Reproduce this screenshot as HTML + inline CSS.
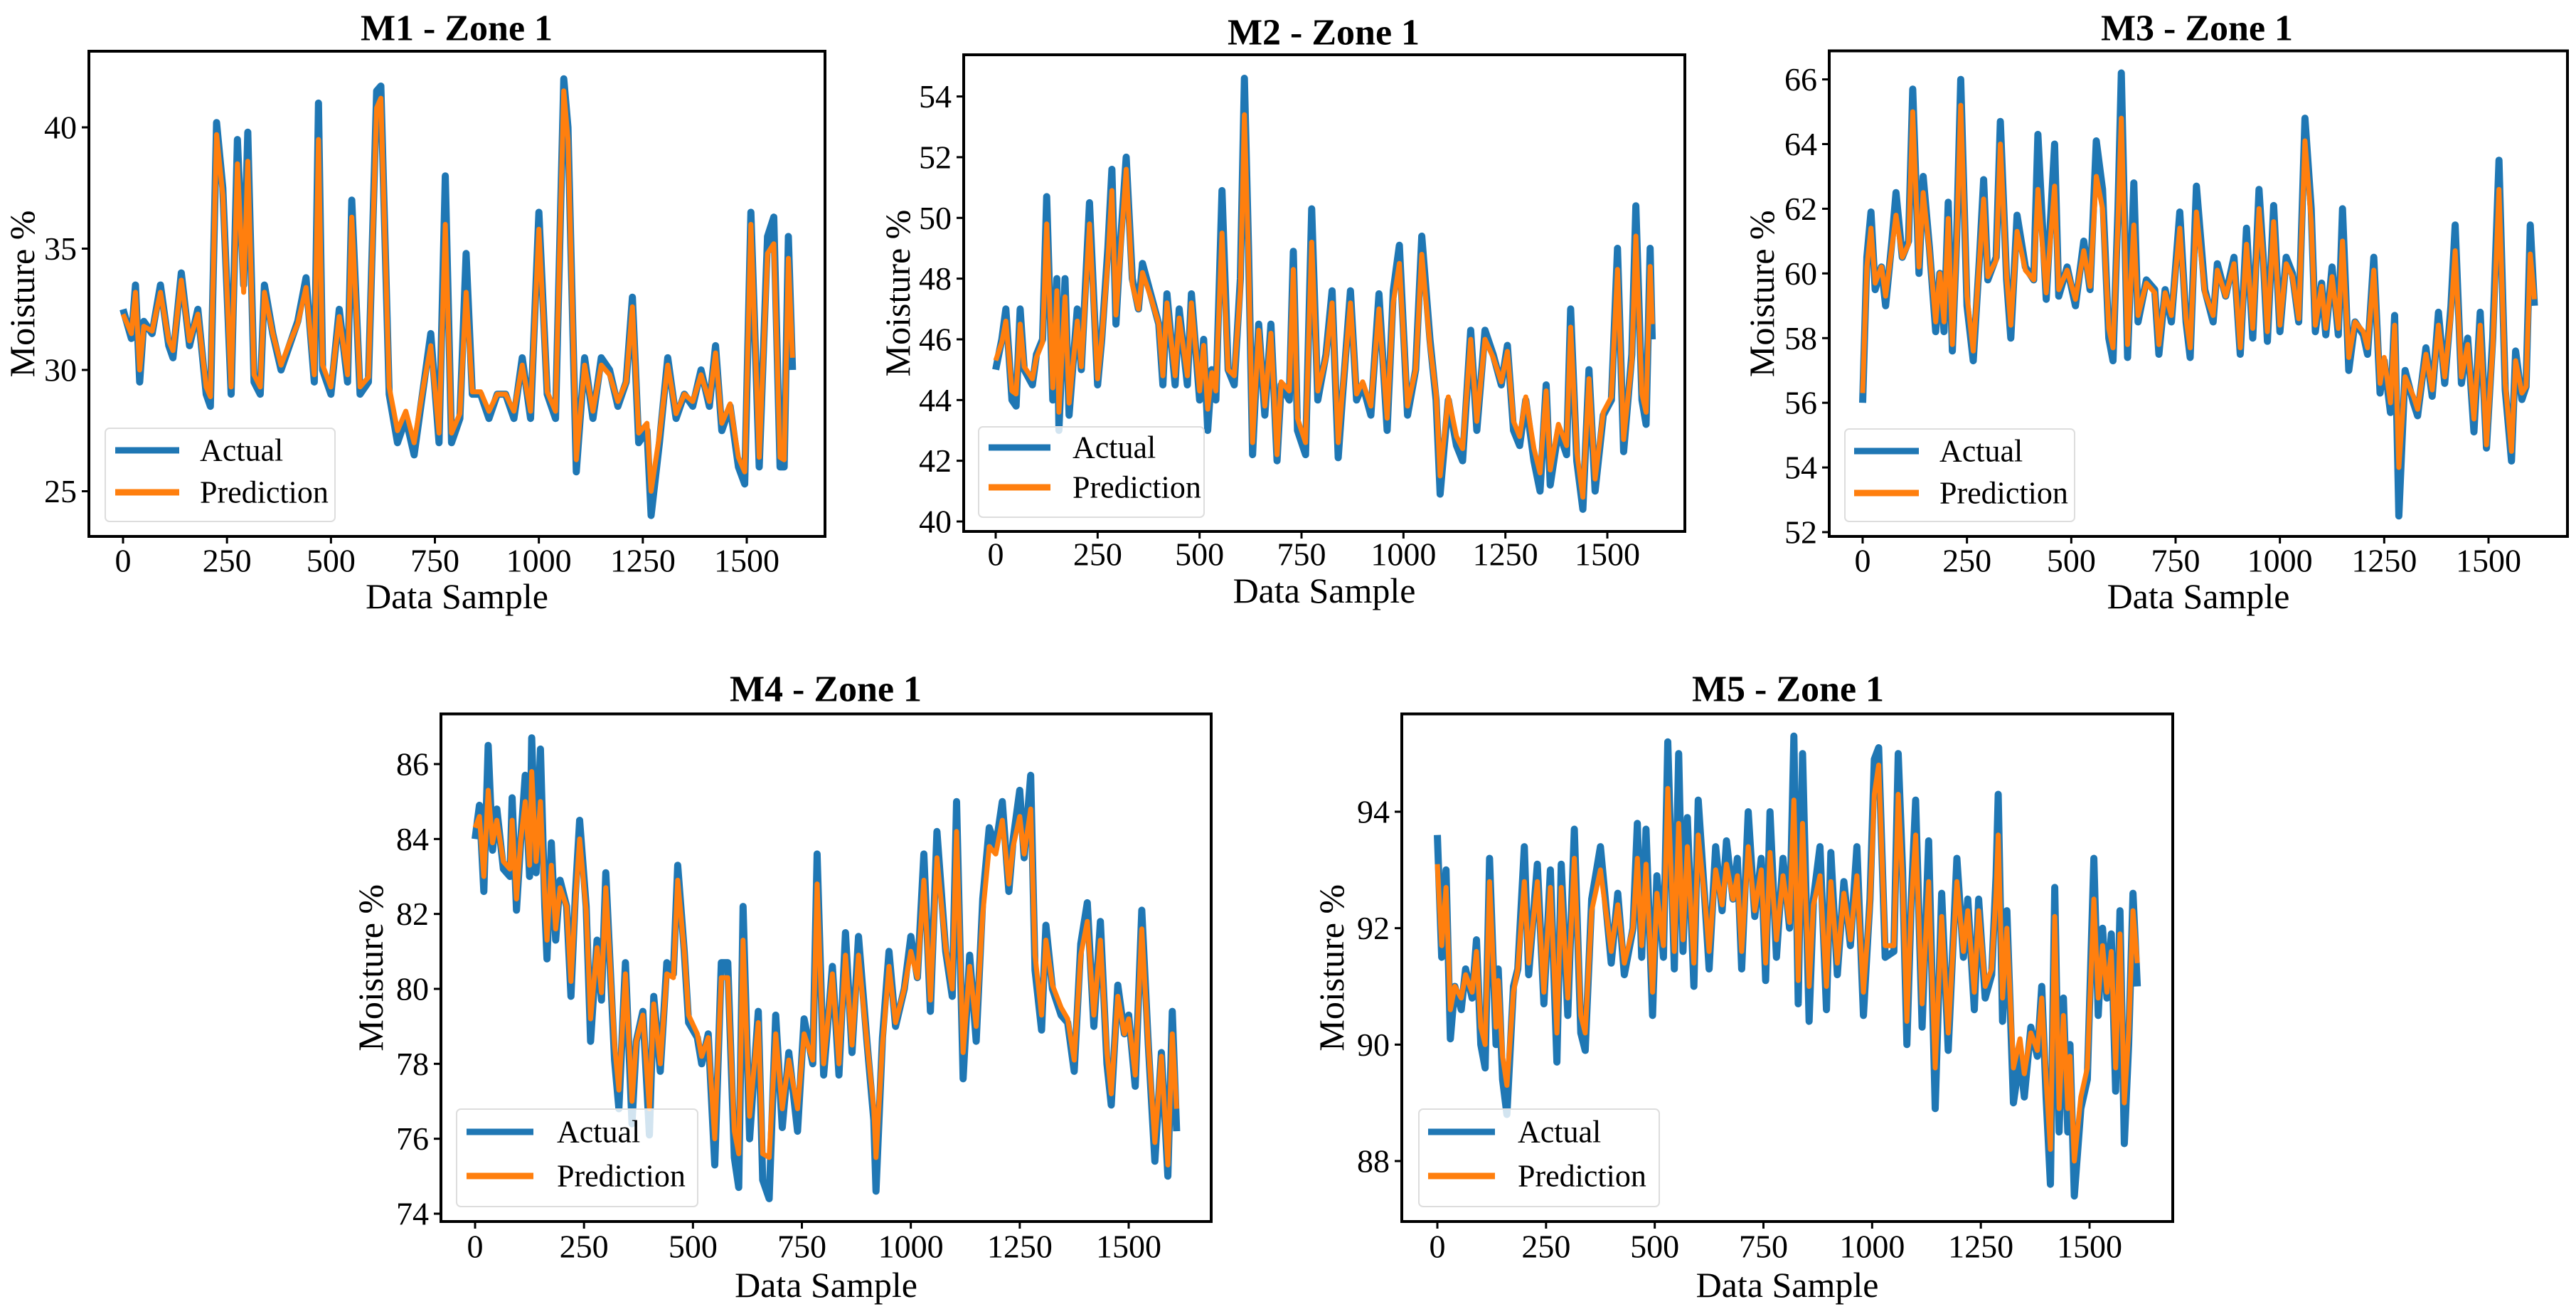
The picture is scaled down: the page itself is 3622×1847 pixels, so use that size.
<!DOCTYPE html>
<html><head><meta charset="utf-8"><style>
html,body{margin:0;padding:0;background:#fff;}
svg{display:block;font-family:"Liberation Serif","DejaVu Serif",serif;}
</style></head><body>
<svg id="fig" width="3622" height="1847" viewBox="0 0 3622 1847" xmlns="http://www.w3.org/2000/svg"></svg>
<script>
// ---- data ----
const m1X=[0,20,30,40,50,70,90,110,120,140,160,180,200,210,225,240,260,275,290,300,315,330,340,360,380,400,420,440,460,470,480,500,520,540,550,570,590,610,620,640,660,680,700,720,740,760,775,790,810,825,840,860,880,900,920,940,960,980,1000,1020,1040,1060,1070,1090,1110,1130,1150,1170,1190,1210,1225,1240,1260,1270,1290,1310,1330,1350,1370,1390,1410,1425,1440,1460,1480,1495,1510,1530,1550,1565,1580,1590,1600,1610];
const m1Actual=[32.5,31.3,33.5,29.5,32,31.5,33.5,31,30.5,34,31,32.5,29,28.5,40.2,37.5,29,39.5,33.5,39.8,29.5,29,33.5,31.5,30,31,32,33.8,29.5,41,30,29,32.5,29.5,37,29,29.5,41.5,41.7,29,27,28,26.5,29,31.5,27,38,27,28,34.8,29,29,28,29,29,28,30.5,28,36.5,29,28,42,40,25.8,30.5,28,30.5,30,28.5,29.5,33,27,27.5,24,27,30.5,28,29,28.5,30,28.5,31,27.5,28.5,26,25.3,36.5,26,35.5,36.3,26,26,35.5,30];
const m1Pred=[32.3,31.5,33.2,30,31.8,31.6,33.2,31.2,30.8,33.7,31.2,32.3,29.3,28.9,39.7,37.2,29.3,38.5,33.2,38.6,29.8,29.3,33.2,31.5,30.2,31.1,31.9,33.4,29.8,39.5,30.2,29.3,32.2,29.8,36.3,29.3,29.7,40.8,41.2,29.3,27.5,28.3,27,29.1,31,27.4,36,27.4,28.2,33.2,29.1,29.1,28.3,29,29,28.3,30.2,28.3,35.8,29.1,28.3,41.5,39.5,26.3,30.2,28.3,30.2,29.8,28.7,29.5,32.6,27.4,27.8,25,27.3,30.2,28.2,29,28.7,29.8,28.7,30.7,27.8,28.6,26.4,25.8,36,26.4,34.8,35.2,26.4,26.3,34.6,30.5];
const m1YTicks=[25,30,35,40];

const m2X=[0,15,25,40,50,60,70,90,100,115,125,140,150,155,170,180,200,210,230,250,260,275,285,295,305,320,335,350,360,380,400,410,420,440,450,470,480,500,510,520,530,540,555,570,585,600,610,620,630,645,660,675,690,700,720,730,740,760,775,790,810,825,840,850,870,885,900,920,940,960,975,990,1010,1030,1045,1065,1080,1090,1110,1130,1145,1165,1180,1200,1220,1240,1255,1270,1285,1300,1320,1335,1350,1360,1380,1400,1410,1425,1440,1455,1470,1490,1510,1525,1540,1560,1570,1585,1595,1605,1610];
const m2Actual=[45,46,47,44,43.8,47,45,44.5,45.5,46,50.7,44,48,43,48,43.5,47,45,50.5,44.5,46,49,51.6,46.5,49,52,48,47,48.5,47.5,46.5,44.5,47.5,44.5,47,44.5,47.5,44,46,43,45,44,50.9,45,44.5,48,54.6,49,42.2,46.5,43.5,46.5,42,44.5,44,48.9,43,42.2,50.3,44,45.5,47.6,42.1,44,47.6,44,44.5,43.5,47.5,43,47.6,49.1,43.5,45,49.4,46,44,40.9,44,42.5,42,46.3,43,46.3,45.5,44.5,45.8,43,42.5,44,42,41,44.5,41.2,43,42.2,47,42,40.4,45,41,43.5,44,49,42.3,45.5,50.4,44,43.2,49,46];
const m2Pred=[45.3,45.9,46.6,44.3,44.2,46.5,45.1,44.7,45.4,45.9,49.8,44.4,47.6,43.6,47.4,43.9,46.6,45.1,49.8,44.7,46,48.6,50.9,46.8,48.7,51.6,47.8,47,48.2,47.4,46.5,44.8,47.2,44.8,46.7,44.8,47.2,44.3,45.8,43.7,44.9,44.3,49.5,45,44.8,47.6,53.4,48.6,42.6,46.3,43.8,46.2,42.2,44.6,44.3,48.3,43.4,42.6,49.2,44.3,45.4,47.2,42.6,44.2,47.2,44.2,44.6,43.8,47,43.4,47.2,48.5,43.8,45,48.8,45.8,44.2,41.5,44.1,42.8,42.4,46,43.3,46,45.4,44.6,45.6,43.3,42.8,44.1,42.4,41.6,44.3,41.7,43.2,42.5,46.4,42.3,40.8,44.7,41.4,43.6,44.1,48.3,42.7,45.3,49.4,44.2,43.6,48.4,46.5];
const m2YTicks=[40,42,44,46,48,50,52,54];

const m3X=[0,10,20,30,45,55,70,80,95,110,120,135,145,160,175,185,195,205,215,225,235,250,265,280,290,300,320,330,345,355,370,390,410,420,440,460,470,490,510,530,545,560,575,590,600,612,620,635,650,660,680,700,710,725,740,760,775,785,800,820,840,850,870,890,905,920,935,950,960,970,985,1000,1015,1030,1045,1060,1075,1085,1100,1110,1125,1140,1150,1165,1180,1200,1210,1225,1240,1250,1265,1275,1285,1300,1320,1330,1350,1365,1380,1395,1410,1420,1435,1450,1465,1480,1495,1510,1525,1540,1555,1565,1580,1590,1600,1610];
const m3Actual=[56,60.5,61.9,59.5,60.2,59,61,62.5,60.5,61,65.7,60,63,60.8,58.2,60,58.2,62.2,57.6,61,66,59,57.3,60.5,62.9,59.8,60.5,64.7,59.8,58,61.8,60.2,59.8,64.3,59.2,64,59.3,60.2,59,61,59.5,64.1,62.6,58,57.3,62,66.2,57.4,62.8,58.5,59.8,59.5,57.5,59.5,58.5,61.9,58.5,57.4,62.7,59.5,58.5,60.3,59.3,60.5,57.5,61.4,58,62.6,60.5,57.9,62.1,58.2,60.5,60,58.5,64.8,62,58.2,59.7,58.1,60.2,58.1,62,57,58.5,58.1,57.5,60.5,56.3,57.3,55.7,58.7,52.5,57,56,55.6,57.7,56.2,58.8,56.6,59,61.5,56.6,58,55.1,58.8,54.6,58,63.5,56.4,54.2,57.6,56.1,56.5,61.5,59];
const m3Pred=[56.3,60.2,61.4,59.7,60.2,59.3,60.8,61.8,60.5,60.9,65,60.2,62.5,60.7,58.5,60,58.5,61.7,57.8,60.8,65.2,59.3,57.6,60.4,62.3,59.9,60.4,64,59.9,58.4,61.3,60.1,59.8,62.6,59.4,62.7,59.5,60.1,59.2,60.7,59.6,63,62,58.3,57.7,61.6,64.8,57.8,61.5,58.7,59.7,59.4,57.8,59.4,58.7,61.4,58.6,57.7,61.9,59.4,58.7,60.1,59.3,60.3,57.7,60.9,58.3,62,60.4,58.2,61.6,58.4,60.3,59.9,58.6,64.1,61.6,58.4,59.6,58.3,59.9,58.3,61,57.4,58.5,58.2,57.7,60.1,56.6,57.4,56,58.4,54,56.8,56.2,55.8,57.5,56.4,58.4,56.8,58.7,60.7,56.8,57.8,55.5,58.4,54.7,57.7,62.6,56.6,54.5,57.3,56.3,56.5,60.6,59.2];
const m3YTicks=[52,54,56,58,60,62,64,66];

const m4X=[0,10,20,30,40,50,65,80,85,95,105,115,125,130,140,150,160,165,175,185,195,210,220,230,240,255,265,280,290,300,320,330,345,360,370,385,400,410,425,440,455,465,480,490,510,520,535,550,565,580,595,605,615,630,650,660,675,690,705,720,740,755,775,785,800,820,835,850,865,880,900,915,920,935,950,965,985,1000,1015,1030,1045,1060,1080,1095,1105,1120,1135,1150,1165,1180,1195,1210,1225,1235,1250,1260,1275,1285,1300,1310,1325,1345,1360,1375,1390,1405,1420,1435,1450,1460,1475,1490,1500,1515,1530,1545,1560,1575,1590,1600,1610];
const m4Actual=[84,84.9,82.6,86.5,83.7,84.8,83.2,83,85.1,82.1,84,85.7,83,86.7,83.1,86.4,82.2,80.8,83.9,81.3,82.9,82.2,79.8,82.5,84.5,82.2,78.6,81.3,79.7,83.1,78.1,76.8,80.7,76.4,78.6,79.4,76.1,79.8,77.8,80.7,80.4,83.3,81,79.1,78.7,78,78.8,75.3,80.7,80.7,75.5,74.7,82.2,76,79.4,74.9,74.4,79.3,76.3,78.3,76.2,79.2,78,83.6,77.7,80.6,77.7,81.5,78.3,81.4,78.5,76.5,74.6,78.7,81,79,80,81.4,80.3,83.6,79.4,84.2,81,79.8,85,77.6,80.9,78.6,82.4,84.3,83.8,85,82.6,84,85.3,83.5,85.7,80.5,78.9,81.7,80,79.3,79.1,77.8,81.2,82.3,79,81.8,78,76.9,80.1,78.8,79.3,77.4,82.1,78.5,75.4,78.3,75,79.4,76.2];
const m4Pred=[84.3,84.6,83,85.3,83.9,84.5,83.4,83.2,84.5,82.4,84,85,83.3,85.8,83.4,85,82.4,81.3,83.3,81.6,82.7,82.2,80.2,82.3,84,82.1,79.2,81.1,79.9,82.7,78.5,77.3,80.4,77,78.6,79.3,76.8,79.6,78,80.4,80.3,82.9,81,79.3,78.8,78.2,78.7,76,80.3,80.3,76.2,75.6,81.3,76.6,79.1,75.6,75.5,78.8,76.8,78.1,76.8,78.8,78.1,82.8,78,80.4,78,80.9,78.5,80.9,78.5,76.8,75.5,78.5,80.6,79.1,80,81,80.3,82.9,79.7,83.5,81.1,80,84.2,78.3,80.6,79,82,83.8,83.6,84.5,82.8,83.8,84.6,83.6,84.8,80.9,79.3,81.3,80.1,79.5,79.2,78.1,80.9,81.8,79.3,81.3,78.3,77.2,79.8,78.8,79.2,77.7,81.6,78.5,75.9,78.2,75.3,78.8,76.8];
const m4YTicks=[74,76,78,80,82,84,86];

const m5X=[0,10,20,30,40,55,65,80,90,100,110,120,135,140,150,160,175,185,200,210,230,245,260,275,285,300,315,330,340,355,375,400,415,430,450,460,470,480,495,505,520,530,545,555,565,575,590,600,615,625,640,655,665,680,690,700,715,730,745,755,765,780,795,810,820,830,840,855,865,880,895,905,920,935,950,965,980,995,1005,1015,1030,1050,1060,1070,1080,1090,1100,1115,1130,1145,1160,1175,1195,1210,1220,1235,1245,1260,1275,1285,1290,1300,1310,1325,1340,1350,1365,1380,1390,1400,1410,1420,1430,1440,1450,1455,1465,1480,1495,1510,1520,1530,1540,1550,1560,1570,1580,1590,1600,1610];
const m5Actual=[93.6,91.5,93,90.1,91,90.6,91.3,90.8,91.8,90,89.6,93.2,90,91.3,89.4,88.8,91,91.3,93.4,91.2,93.1,90.7,93,89.7,93.1,90.5,93.7,90.2,89.9,92.5,93.4,91.4,92.6,91.2,92,93.8,91.5,93.7,90.5,92.9,91.5,95.2,91.3,95,91.6,93.9,91,94.2,92.5,91.3,93.4,92.3,93.5,92.5,93.2,91.3,94,92.2,93.2,91.1,94,91.5,93.2,92,95.3,90.7,95,90.4,92.5,93.4,90.6,93.3,91.2,92.8,91.7,93.4,90.5,92.5,94.9,95.1,91.5,91.6,95,93,90,92.5,94.2,90.3,93.5,88.9,92.6,89.9,93.2,91.5,92.5,90.6,92.5,90.8,91.2,92.9,94.3,90.4,92.3,89,89.8,89.1,90.3,89.8,91,89.1,87.6,92.7,88.5,90.8,88.5,90,87.4,88.9,89.4,93.2,90.5,92,90.8,91.9,89.2,92.3,88.3,90,92.6,91];
const m5Pred=[93.1,91.7,92.7,90.6,91,90.8,91.2,90.9,91.6,90.3,90,92.8,90.3,91.1,89.8,89.3,90.9,91.3,92.8,91.4,92.8,90.9,92.7,90.2,92.7,90.8,93.2,90.5,90.2,92.3,93,91.6,92.4,91.4,92,93.2,91.7,93.1,90.9,92.6,91.7,94.4,91.6,93.8,91.8,93.4,91.4,93.6,92.5,91.6,93,92.4,93.1,92.5,92.9,91.6,93.4,92.3,93,91.4,93.3,91.8,92.9,92.1,94.2,91.1,93.8,91,92.4,92.9,91,92.8,91.4,92.6,91.8,92.9,90.9,92.4,94.3,94.8,91.7,91.7,94.3,92.8,90.4,92.4,93.6,90.7,92.8,89.6,92.2,90.2,92.8,91.6,92.3,90.9,92.3,91,91.3,92.6,93.6,90.8,92,89.6,90.1,89.5,90.2,89.9,90.8,89.4,88.2,92.2,88.9,90.5,88.9,89.8,88,89.1,89.6,92.5,90.8,91.7,90.9,91.6,89.6,91.9,89,90.2,92.3,91.4];
const m5YTicks=[88,90,92,94];

const xTickLabels=[0,250,500,750,1000,1250,1500];

// ---- layout (pixels) ----
const charts=[
 {id:'m1',title:'M1 - Zone 1',x:m1X,a:m1Actual,p:m1Pred,yt:m1YTicks,L:125,R:1160,T:72,B:754,x0:173,x1500:1050,yv1:40,yp1:179,yv2:25,yp2:690.5,tx:642,ty:40,ylx:31,xty:788,xly:838,lg:[148,602,323,131],ly:[633,692],lx:[162,252],ltx:281},
 {id:'m2',title:'M2 - Zone 1',x:m2X,a:m2Actual,p:m2Pred,yt:m2YTicks,L:1355,R:2369,T:77,B:747,x0:1400,x1500:2260,yv1:54,yp1:135.6,yv2:40,yp2:733,tx:1861,ty:46,ylx:1262,xty:779,xly:830,lg:[1376,600,317,127],ly:[629,685],lx:[1390,1477],ltx:1508},
 {id:'m3',title:'M3 - Zone 1',x:m3X,a:m3Actual,p:m3Pred,yt:m3YTicks,L:2572,R:3610,T:71.5,B:754,x0:2619,x1500:3499,yv1:66,yp1:111.6,yv2:52,yp2:748,tx:3089,ty:40,ylx:2477,xty:788,xly:838,lg:[2594,603,323,130],ly:[634,693],lx:[2607,2698],ltx:2727},
 {id:'m4',title:'M4 - Zone 1',x:m4X,a:m4Actual,p:m4Pred,yt:m4YTicks,L:620,R:1703,T:1003.5,B:1717,x0:668,x1500:1587,yv1:86,yp1:1074,yv2:74,yp2:1706,tx:1161,ty:969,ylx:521,xty:1752,xly:1806,lg:[642,1559,339,137],ly:[1591,1653],lx:[656,750],ltx:783},
 {id:'m5',title:'M5 - Zone 1',x:m5X,a:m5Actual,p:m5Pred,yt:m5YTicks,L:1971,R:3055,T:1003.5,B:1717,x0:2021,x1500:2938,yv1:94,yp1:1141,yv2:88,yp2:1632,tx:2514,ty:969,ylx:1872,xty:1752,xly:1806,lg:[1995,1559,338,137],ly:[1591,1653],lx:[2008,2102],ltx:2134}
];
const NS='http://www.w3.org/2000/svg';
const svg=document.getElementById('fig');
function mk(tag,attrs,parent){const e=document.createElementNS(NS,tag);for(const k in attrs)e.setAttribute(k,attrs[k]);(parent||svg).appendChild(e);return e;}
charts.forEach(c=>{
  const g=mk('g',{});
  
  
  const xs=v=>c.x0+(v/1500)*(c.x1500-c.x0);
  const ys=v=>c.yp1+(v-c.yv1)*(c.yp2-c.yp1)/(c.yv2-c.yv1);
  const cp=mk('clipPath',{id:'clip-'+c.id},g);
  mk('rect',{x:c.L,y:c.T,width:c.R-c.L,height:c.B-c.T},cp);
  function series(vals,color,w,name){
    let d='';const n=Math.min(c.x.length,vals.length);
    for(let i=0;i<n;i++)d+=(i?'L':'M')+xs(c.x[i]).toFixed(1)+' '+ys(vals[i]).toFixed(1);
    const pth=mk('path',{d:d,fill:'none',stroke:color,'stroke-width':w,'stroke-linejoin':'round','stroke-linecap':'butt','clip-path':'url(#clip-'+c.id+')'},g);
    
    
  }
  series(c.a,'#1f77b4',10,c.id+'-actual-line');
  series(c.p,'#ff7f0e',7,c.id+'-prediction-line');
  // frame
  const fr=mk('rect',{x:c.L,y:c.T,width:c.R-c.L,height:c.B-c.T,fill:'none',stroke:'#000','stroke-width':4},g);
  
  
  // y ticks
  c.yt.forEach(v=>{
    const y=ys(v);
    const tk=mk('line',{x1:c.L-10,x2:c.L,y1:y,y2:y,stroke:'#000','stroke-width':3},g);
    
    
    const t=mk('text',{x:c.L-17,y:y,'text-anchor':'end','dominant-baseline':'central','font-size':46},g);
    t.textContent=v;
    
    
  });
  xTickLabels.forEach(v=>{
    const x=xs(v);
    const tk=mk('line',{x1:x,x2:x,y1:c.B,y2:c.B+10,stroke:'#000','stroke-width':3},g);
    
    
    const t=mk('text',{x:x,y:c.xty,'text-anchor':'middle','dominant-baseline':'central','font-size':46},g);
    t.textContent=v;
    
    
  });
  const tt=mk('text',{x:c.tx,y:c.ty,'text-anchor':'middle','dominant-baseline':'central','font-size':52,'font-weight':'bold'},g);
  tt.textContent=c.title;
  
  
  const xl=mk('text',{x:(c.L+c.R)/2,y:c.xly,'text-anchor':'middle','dominant-baseline':'central','font-size':50},g);
  xl.textContent='Data Sample';
  
  
  const cy=(c.T+c.B)/2;
  const yl=mk('text',{x:c.ylx,y:cy,'text-anchor':'middle','dominant-baseline':'central','font-size':50,transform:'rotate(-90 '+c.ylx+' '+cy+')'},g);
  yl.textContent='Moisture %';
  
  
  // legend
  const lgG=mk('g',{},g);
  
  
  mk('rect',{x:c.lg[0],y:c.lg[1],width:c.lg[2],height:c.lg[3],rx:6,fill:'#fff','fill-opacity':0.8,stroke:'#ddd','stroke-width':2},lgG);
  [['Actual','#1f77b4',c.ly[0]],['Prediction','#ff7f0e',c.ly[1]]].forEach(e=>{
    const l=mk('line',{x1:c.lx[0],x2:c.lx[1],y1:e[2],y2:e[2],stroke:e[1],'stroke-width':9},lgG);
    
    
    const t=mk('text',{x:c.ltx,y:e[2],'dominant-baseline':'central','font-size':44},lgG);
    t.textContent=e[0];
    
    
  });
});
</script>
</body></html>
